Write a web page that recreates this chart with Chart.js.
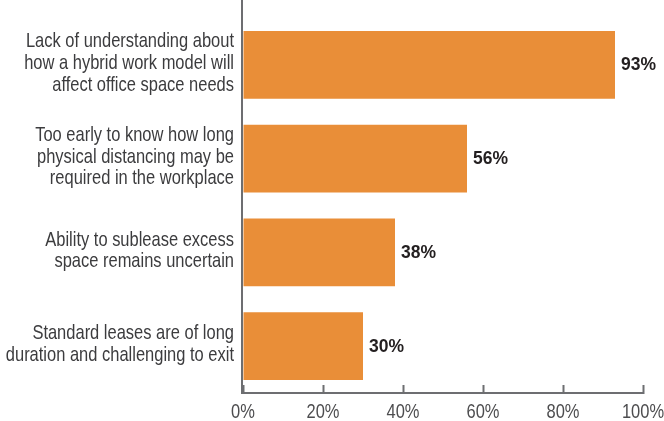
<!DOCTYPE html>
<html>
<head>
<meta charset="utf-8">
<script src="https://cdn.jsdelivr.net/npm/chart.js@4"></script>
<style>
    body { margin: 0; background: #fff; }
    #wrap { width: 664px; height: 421px; position: relative; }
</style>
</head>
<body>
<div id="wrap"><canvas id="barChart"></canvas></div>
<script>
// categorias (una linea por fila del texto)
const categories = [
    ['Lack of understanding about', 'how a hybrid work model will', 'affect office space needs'],
    ['Too early to know how long', 'physical distancing may be', 'required in the workplace'],
    ['Ability to sublease excess', 'space remains uncertain'],
    ['Standard leases are of long', 'duration and challenging to exit']
];
const values = [93, 56, 38, 30];
const axis_max = 100;
const axis_step = 20;

const label_font = '21px "Liberation Sans", Arial, sans-serif';
const narrow = 0.785;      // compresion horizontal, la fuente original es condensada
const line_height = 21.7;
const axis_color = '#6d6e71';

// texto estrecho: se escala solo en horizontal
function narrowText(ctx, text, x, y, align) {
    ctx.save();
    ctx.translate(x, y);
    ctx.scale(narrow, 1);
    ctx.textAlign = align;
    ctx.fillText(text, 0, 0);
    ctx.restore();
}

// linea vertical del eje, desde arriba del todo
const leftLine = {
    id: 'leftLine',
    afterDatasetsDraw(chart) {
        const { ctx, chartArea } = chart;
        ctx.save();
        ctx.strokeStyle = axis_color;
        ctx.lineWidth = 2;
        ctx.beginPath();
        ctx.moveTo(chartArea.left - 1, 0);
        ctx.lineTo(chartArea.left - 1, chartArea.bottom + 1);
        ctx.stroke();
        ctx.restore();
    }
};

// etiquetas de los ejes
const axisLabels = {
    id: 'axisLabels',
    afterDraw(chart) {
        const { ctx, chartArea } = chart;
        const yScale = chart.scales.y;
        const xScale = chart.scales.x;
        ctx.save();
        ctx.font = label_font;
        ctx.textBaseline = 'alphabetic';

        ctx.fillStyle = '#3c3c3e';
        categories.forEach((lines, i) => {
            const cy = yScale.getPixelForTick(i);
            lines.forEach((line, j) => {
                const y = cy + 4 + (j - (lines.length - 1) / 2) * line_height;
                narrowText(ctx, line, chartArea.left - 9, y, 'right');
            });
        });

        ctx.fillStyle = '#4d4d4f';
        xScale.ticks.forEach((t, i) => {
            narrowText(ctx, t.value + '%', xScale.getPixelForTick(i), chartArea.bottom + 25, 'center');
        });
        ctx.restore();
    }
};

// etiquetas de valor al final de cada barra
const valueLabels = {
    id: 'valueLabels',
    afterDatasetsDraw(chart) {
        const { ctx } = chart;
        const meta = chart.getDatasetMeta(0);
        ctx.save();
        ctx.font = 'bold 17.5px "Liberation Sans", Arial, sans-serif';
        ctx.fillStyle = '#231f20';
        ctx.textAlign = 'left';
        ctx.textBaseline = 'alphabetic';
        meta.data.forEach((bar, i) => {
            ctx.fillText(values[i] + '%', bar.x + 6, bar.y + 5.5);
        });
        ctx.restore();
    }
};

const ctx = document.getElementById('barChart').getContext('2d');
new Chart(ctx, {
    type: 'bar',
    data: {
        labels: categories,
        datasets: [{
            data: values,
            backgroundColor: '#e98e38',
            borderWidth: 0,
            barPercentage: 1,
            categoryPercentage: 0.723
        }]
    },
    options: {
        indexAxis: 'y',
        responsive: true,
        maintainAspectRatio: false,
        animation: false,
        layout: { padding: { top: 18, right: 21, left: 0, bottom: 0 } },
        plugins: {
            legend: { display: false },
            tooltip: { enabled: false }
        },
        scales: {
            x: {
                min: 0,
                max: axis_max,
                ticks: { stepSize: axis_step, display: false },
                grid: {
                    drawOnChartArea: false,
                    drawTicks: true,
                    tickLength: -8,
                    tickColor: axis_color,
                    tickWidth: 2
                },
                border: { display: true, color: axis_color, width: 2 },
                afterFit: scale => {
                    scale.height = 28;
                    scale.paddingLeft = 0;
                    scale.paddingRight = 0;
                }
            },
            y: {
                ticks: { display: false },
                grid: { display: false, drawTicks: false },
                border: { display: false },
                afterFit: scale => {
                    scale.width = 243;
                    scale.paddingTop = 0;
                    scale.paddingBottom = 0;
                }
            }
        }
    },
    plugins: [leftLine, valueLabels, axisLabels]
});
</script>
</body>
</html>
